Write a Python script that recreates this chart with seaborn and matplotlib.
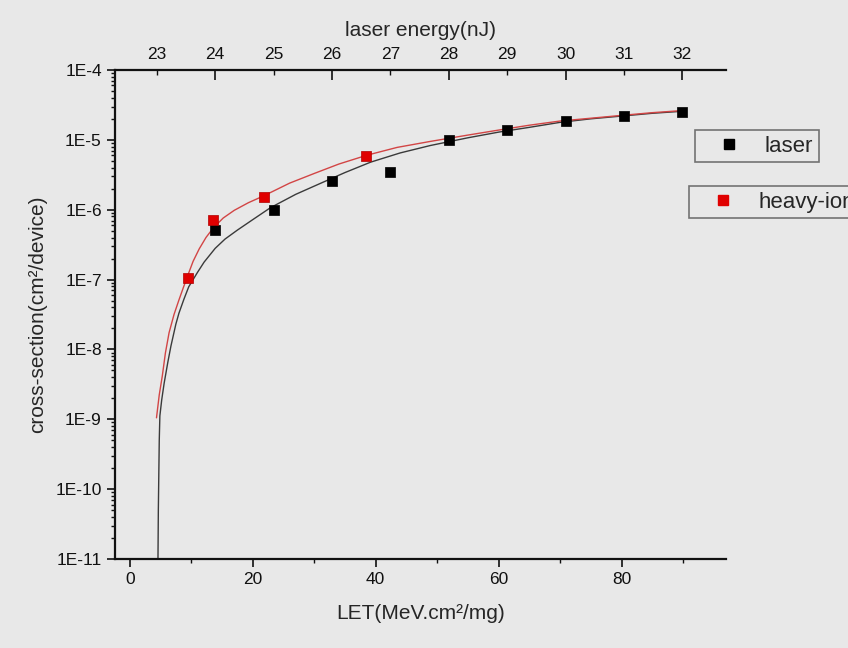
import numpy as np
import matplotlib
matplotlib.use("Agg")
import matplotlib.pyplot as plt
import seaborn as sns
from matplotlib.lines import Line2D
from matplotlib.ticker import FixedLocator, LogLocator, NullFormatter, FuncFormatter

# measured points
laser_let = [13.9, 23.4, 32.9, 42.4, 51.9, 61.4, 70.9, 80.4, 89.9]
laser_xs = [5.2e-7, 1.0e-6, 2.6e-6, 3.5e-6, 1.0e-5, 1.4e-5, 1.85e-5, 2.2e-5, 2.5e-5]
ion_let = [9.4, 13.6, 21.8, 38.5]
ion_xs = [1.05e-7, 7.2e-7, 1.5e-6, 5.8e-6]

# fitted curves
fit_laser_let = [4.55, 4.65, 4.8, 4.9, 5.2, 5.6, 6.2, 6.7, 7.5, 8.0, 8.8, 9.6, 11.0,
                 12.1, 13.9, 15.5, 17.5, 20.0, 22.9, 27.0, 31.1, 35.0, 39.2, 44.0,
                 48.9, 55, 60, 65, 70, 75, 80, 85, 90]
fit_laser_xs = [3.2e-12, 5.0e-11, 5.0e-10, 1.12e-9, 1.9e-9, 3.3e-9, 6.6e-9, 1.12e-8,
                2.3e-8, 3.3e-8, 5.2e-8, 7.9e-8, 1.26e-7, 1.78e-7, 2.8e-7, 3.8e-7,
                5.1e-7, 7.2e-7, 1.07e-6, 1.66e-6, 2.4e-6, 3.4e-6, 4.8e-6, 6.5e-6,
                8.3e-6, 1.07e-5, 1.29e-5, 1.51e-5, 1.78e-5, 2.0e-5, 2.19e-5, 2.4e-5,
                2.57e-5]
fit_ion_let = [4.35, 4.8, 5.3, 5.8, 6.4, 7.2, 8.0, 8.7, 9.4, 10.3, 11.3, 12.4, 13.6,
               15.2, 17.0, 19.3, 21.8, 26.0, 30.0, 34.0, 38.5, 43.5, 48.9, 55, 60,
               65, 70, 75, 80, 85, 90]
fit_ion_xs = [1.05e-9, 2.24e-9, 4.2e-9, 8.9e-9, 1.74e-8, 3.16e-8, 5.1e-8, 7.6e-8,
              1.12e-7, 1.82e-7, 2.75e-7, 4.0e-7, 5.5e-7, 7.6e-7, 9.8e-7, 1.26e-6,
              1.58e-6, 2.4e-6, 3.3e-6, 4.5e-6, 6.0e-6, 7.8e-6, 9.5e-6, 1.17e-5,
              1.38e-5, 1.62e-5, 1.86e-5, 2.04e-5, 2.24e-5, 2.45e-5, 2.63e-5]

# top axis: laser energy (nJ) against LET position
energy_nj = [23, 24, 25, 26, 27, 28, 29, 30, 31, 32]
energy_let = [4.4, 13.9, 23.4, 32.9, 42.4, 51.9, 61.4, 70.9, 80.4, 89.9]

BG = "#e8e8e8"
INK = "#111111"

sns.set_style("ticks")
plt.rcParams["font.family"] = ["Liberation Sans", "DejaVu Sans"]
plt.rcParams["figure.facecolor"] = BG
plt.rcParams["axes.facecolor"] = BG

fig = plt.figure(figsize=(8.48, 6.48), dpi=100)
ax = fig.add_axes([115 / 848, 1 - 559 / 648, (726 - 115) / 848, (559 - 70) / 648])

sns.lineplot(x=fit_laser_let, y=fit_laser_xs, ax=ax, color="#3a3a3a", linewidth=1.0)
sns.lineplot(x=fit_ion_let, y=fit_ion_xs, ax=ax, color="#d24545", linewidth=1.0)
sns.scatterplot(x=laser_let, y=laser_xs, ax=ax, marker="s", s=55, color="black",
                edgecolor="black", linewidth=0.5, zorder=5)
sns.scatterplot(x=ion_let, y=ion_xs, ax=ax, marker="s", s=55, color="#e00000",
                edgecolor="#b00000", linewidth=0.5, zorder=6)

ax.set_yscale("log")
ax.set_ylim(1e-11, 1e-4)
ax.set_xlim(-2.4, 97)

ax.set_xticks([0, 20, 40, 60, 80])
ax.xaxis.set_minor_locator(FixedLocator([10, 30, 50, 70, 90]))
ax.yaxis.set_major_locator(LogLocator(base=10, numticks=20))
ax.yaxis.set_minor_locator(LogLocator(base=10, subs=np.arange(2, 10), numticks=20))
ax.yaxis.set_minor_formatter(NullFormatter())
ax.yaxis.set_major_formatter(FuncFormatter(lambda v, p: "1E%d" % round(np.log10(v))))

for s in ["left", "bottom", "top"]:
    ax.spines[s].set_linewidth(1.6)
    ax.spines[s].set_color(INK)
ax.spines["right"].set_visible(False)

ax.tick_params(axis="both", which="major", direction="out", length=6, width=1.2,
               labelsize=12.5, colors=INK)
ax.tick_params(axis="both", which="minor", direction="out", length=3, width=1.0,
               colors=INK)
ax.tick_params(axis="x", which="both", top=False)

ax.set_xlabel("LET(MeV.cm²/mg)", fontsize=15, labelpad=12)
ax.set_ylabel("cross-section(cm²/device)", fontsize=15, labelpad=6)

# secondary axis for laser energy (linear relation between nJ and LET)
k, b = np.polyfit(energy_let, energy_nj, 1)
top = ax.secondary_xaxis("top", functions=(lambda x: k * np.asarray(x) + b,
                                           lambda e: (np.asarray(e) - b) / k))
top.spines["top"].set_visible(False)
top.xaxis.set_major_locator(FixedLocator([24, 26, 28, 30, 32]))
top.xaxis.set_minor_locator(FixedLocator([23, 25, 27, 29, 31]))
top.xaxis.set_minor_formatter(FuncFormatter(lambda v, p: "%d" % round(v)))
top.xaxis.set_major_formatter(FuncFormatter(lambda v, p: "%d" % round(v)))
top.tick_params(which="major", direction="in", length=7, width=1.2, labelsize=12.5,
                pad=6, colors=INK)
top.tick_params(which="minor", direction="in", length=3.5, width=1.0, labelsize=12.5,
                pad=6, colors=INK)
top.set_xlabel("laser energy(nJ)", fontsize=15, labelpad=8)

# two separate legend boxes, like the original
leg_kw = dict(fontsize=16, frameon=True, fancybox=False, borderpad=0.25,
              handlelength=2.6, handletextpad=0.3, borderaxespad=0)
h1 = Line2D([], [], marker="s", linestyle="none", color="black", markersize=7)
h2 = Line2D([], [], marker="s", linestyle="none", color="#e00000", markersize=7)
leg1 = fig.legend([h1], ["laser"], loc="center left",
                  bbox_to_anchor=(695 / 848, 1 - 146 / 648), **leg_kw)
leg2 = fig.legend([h2], ["heavy-ion"], loc="center left",
                  bbox_to_anchor=(689 / 848, 1 - 202 / 648), **leg_kw)
for lg in (leg1, leg2):
    fr = lg.get_frame()
    fr.set_facecolor(BG)
    fr.set_edgecolor("#555555")
    fr.set_linewidth(1.2)

fig.savefig("out.png", dpi=100, facecolor=BG)
